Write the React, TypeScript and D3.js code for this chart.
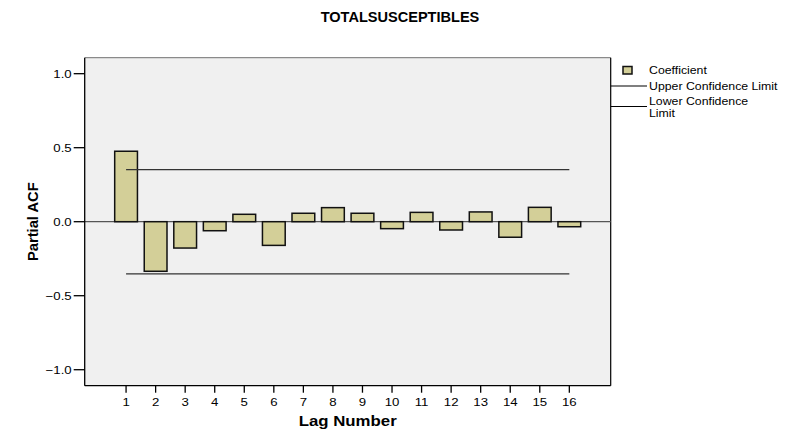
import React from "react";
import * as d3 from "d3";

const lags = [1, 2, 3, 4, 5, 6, 7, 8, 9, 10, 11, 12, 13, 14, 15, 16];
const coefficients = [0.476, -0.335, -0.178, -0.061, 0.05, -0.16, 0.057, 0.095, 0.057, -0.047, 0.063, -0.056, 0.066, -0.105, 0.097, -0.034];
const upperLimit = 0.352;
const lowerLimit = -0.352;
const yTicks = [-1.0, -0.5, 0.0, 0.5, 1.0];
const title = "TOTALSUSCEPTIBLES";
const xLabel = "Lag Number";
const yLabel = "Partial ACF";
const legendItems = ["Coefficient", "Upper Confidence Limit", "Lower Confidence Limit"];

const W = 796;
const H = 431;
const plot = { left: 84.7, right: 610.7, top: 57.7, bottom: 385.7 };
const FONT = "'Liberation Sans', Arial, sans-serif";
const BAR_FILL = "#d3cf98";

type STextProps = {
  x: number;
  y: number;
  sx?: number;
  rotate?: number;
  anchor?: "start" | "middle" | "end";
  size: number;
  bold?: boolean;
  dy?: string;
  children: React.ReactNode;
};

function SText({ x, y, sx = 1, rotate = 0, anchor = "start", size, bold, dy, children }: STextProps) {
  return (
    <g transform={`translate(${x},${y}) rotate(${rotate}) scale(${sx},1)`}>
      <text x={0} y={0} dy={dy} textAnchor={anchor} fontSize={size} fontWeight={bold ? "bold" : "normal"} fill="#000">
        {children}
      </text>
    </g>
  );
}

export default function App() {
  const x = d3.scaleLinear().domain([-0.4, 17.4]).range([plot.left, plot.right]);
  const y = d3.scaleLinear().domain([-1.108, 1.108]).range([plot.bottom, plot.top]);
  const bw = x(0.77) - x(0);

  const confLine = d3.line<[number, number]>().x((d) => x(d[0])).y((d) => y(d[1]));
  const first = lags[0];
  const last = lags[lags.length - 1];

  return (
    <svg width={W} height={H} style={{ position: "absolute", left: 0, top: 0, background: "#fff" }} fontFamily={FONT}>
      <rect x={0} y={0} width={W} height={H} fill="#ffffff" />
      {/* title */}
      <SText x={400} y={22} anchor="middle" size={14} bold sx={1.04}>
        {title}
      </SText>
      {/* plot background */}
      <rect x={plot.left} y={plot.top} width={plot.right - plot.left} height={plot.bottom - plot.top} fill="#f0f0f0" />
      <line x1={plot.left} x2={plot.right} y1={plot.top} y2={plot.top} stroke="#8a8a8a" strokeWidth={1.2} />
      <line x1={plot.right} x2={plot.right} y1={plot.top} y2={plot.bottom} stroke="#000" strokeWidth={1.2} />

      {/* zero line */}
      <line x1={plot.left} x2={plot.right} y1={y(0)} y2={y(0)} stroke="#555" strokeWidth={1.3} />

      {/* bars */}
      {lags.map((l, i) => {
        const v = coefficients[i];
        const y0 = y(0);
        const y1 = y(v);
        return (
          <rect
            key={l}
            x={x(l) - bw / 2}
            y={Math.min(y0, y1)}
            width={bw}
            height={Math.abs(y1 - y0)}
            fill={BAR_FILL}
            stroke="#111"
            strokeWidth={1.5}
          />
        );
      })}

      {/* confidence limits */}
      <path d={confLine([[first, upperLimit], [last, upperLimit]]) || ""} stroke="#333" strokeWidth={1.3} fill="none" />
      <path d={confLine([[first, lowerLimit], [last, lowerLimit]]) || ""} stroke="#333" strokeWidth={1.3} fill="none" />

      {/* axes */}
      <line x1={plot.left} x2={plot.left} y1={plot.top} y2={plot.bottom} stroke="#000" strokeWidth={1.3} />
      <line x1={plot.left} x2={plot.right} y1={plot.bottom} y2={plot.bottom} stroke="#000" strokeWidth={1.3} />
      {yTicks.map((t) => (
        <g key={t}>
          <line x1={plot.left - 11} x2={plot.left} y1={y(t)} y2={y(t)} stroke="#000" strokeWidth={1.3} />
          <SText x={plot.left - 13} y={y(t)} dy="0.35em" anchor="end" size={11.5} sx={1.15}>
            {d3.format(".1f")(t)}
          </SText>
        </g>
      ))}
      {lags.map((l) => (
        <g key={l}>
          <line x1={x(l)} x2={x(l)} y1={plot.bottom} y2={plot.bottom + 7} stroke="#000" strokeWidth={1.3} />
          <SText x={x(l)} y={plot.bottom + 20} anchor="middle" size={11.5} sx={1.15}>
            {l}
          </SText>
        </g>
      ))}
      <SText x={(plot.left + plot.right) / 2} y={426} anchor="middle" size={14} bold sx={1.2}>
        {xLabel}
      </SText>
      <SText x={38} y={y(0)} rotate={-90} anchor="middle" size={14} bold sx={1.05}>
        {yLabel}
      </SText>

      {/* legend */}
      <rect x={623} y={66.5} width={9} height={7.5} fill={BAR_FILL} stroke="#111" strokeWidth={1.5} />
      <SText x={649} y={70} dy="0.35em" size={11} sx={1.12}>
        {legendItems[0]}
      </SText>
      <line x1={plot.right} x2={647} y1={86} y2={86} stroke="#000" strokeWidth={1.2} />
      <SText x={649} y={86} dy="0.35em" size={11} sx={1.12}>
        {legendItems[1]}
      </SText>
      <line x1={plot.right} x2={647} y1={106.5} y2={106.5} stroke="#000" strokeWidth={1.2} />
      <SText x={649} y={101} dy="0.35em" size={11} sx={1.12}>
        {legendItems[2].split(" ").slice(0, 2).join(" ")}
      </SText>
      <SText x={649} y={113} dy="0.35em" size={11} sx={1.12}>
        {legendItems[2].split(" ").slice(2).join(" ")}
      </SText>
    </svg>
  );
}
